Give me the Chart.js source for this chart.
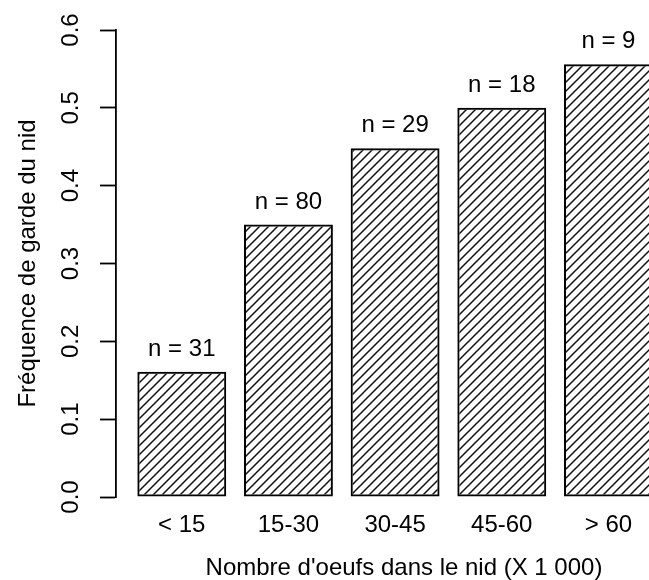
<!DOCTYPE html>
<html>
<head>
  <meta charset="UTF-8">
  <title>Fréquence de garde du nid</title>
  <script src="https://cdn.jsdelivr.net/npm/chart.js"></script>
  <style>
    html, body {
      margin: 0;
      padding: 0;
      background: white;
      overflow: hidden;
    }
    #wrap {
      width: 692px;
      height: 583px;
    }
  </style>
</head>
<body>
  <div id="wrap">
    <canvas id="nestChart" width="692" height="583"></canvas>
  </div>

  <script>
  // Data
  const categories = ['< 15', '15-30', '30-45', '45-60', '> 60'];
  const frequencies = [0.161, 0.35, 0.448, 0.5, 0.556];
  const sampleSizes = [31, 80, 29, 18, 9];
  const yMin = 0;
  const yMax = 0.6;
  const yStep = 0.1;

  // R barplot layout: bar width 1, space 0.2, axis range expanded by 4%
  const barMids = categories.map((c, i) => 0.7 + 1.2 * i);
  const xMin = 0.2 - 0.24;
  const xMax = 6.2 + 0.24;

  Chart.defaults.font.family = "'Liberation Sans', Arial, sans-serif";
  Chart.defaults.font.size = 24;
  Chart.defaults.color = '#000';

  // Diagonal hatching like density=... in R
  function makeHatch() {
    const s = 9;
    const c = document.createElement('canvas');
    c.width = s;
    c.height = s;
    const ctx = c.getContext('2d');
    ctx.strokeStyle = '#111';
    ctx.lineWidth = 1.5;
    ctx.beginPath();
    ctx.moveTo(-1, s + 1);
    ctx.lineTo(s + 1, -1);
    ctx.moveTo(-1, 1);
    ctx.lineTo(1, -1);
    ctx.moveTo(s - 1, s + 1);
    ctx.lineTo(s + 1, s - 1);
    ctx.stroke();
    return ctx.createPattern(c, 'repeat');
  }

  // "n = .." labels above each bar
  const countLabels = {
    id: 'countLabels',
    afterDatasetsDraw(chart) {
      const ctx = chart.ctx;
      const meta = chart.getDatasetMeta(0);
      ctx.save();
      ctx.font = "24px 'Liberation Sans', Arial, sans-serif";
      ctx.fillStyle = '#000';
      ctx.textAlign = 'center';
      ctx.textBaseline = 'alphabetic';
      meta.data.forEach((bar, i) => {
        ctx.fillText('n = ' + sampleSizes[i], bar.x, bar.y - 16);
      });
      ctx.restore();
    }
  };

  new Chart(document.getElementById('nestChart'), {
    type: 'bar',
    data: {
      datasets: [{
        data: frequencies.map((v, i) => ({ x: barMids[i], y: v })),
        backgroundColor: makeHatch(),
        borderColor: '#000',
        borderWidth: 2,
        borderSkipped: false,
        categoryPercentage: 1 / 1.2,
        barPercentage: 1
      }]
    },
    options: {
      responsive: false,
      animation: false,
      layout: { padding: { top: 30, left: 0, right: 0, bottom: 0 } },
      plugins: {
        legend: { display: false },
        tooltip: { enabled: false }
      },
      scales: {
        x: {
          type: 'linear',
          min: xMin,
          max: xMax,
          offset: false,
          grid: { display: false, drawTicks: false },
          border: { display: false },
          afterBuildTicks: scale => {
            scale.ticks = barMids.map(v => ({ value: v }));
          },
          ticks: {
            autoSkip: false,
            maxRotation: 0,
            padding: 14,
            callback: (v, i) => categories[i]
          },
          title: {
            display: true,
            text: "Nombre d'oeufs dans le nid (X 1 000)",
            padding: { top: 0, bottom: 0 }
          },
          afterFit: scale => { scale.height = 86; }
        },
        y: {
          min: yMin,
          max: yMax,
          grid: {
            drawOnChartArea: false,
            drawTicks: true,
            tickLength: 16,
            tickColor: '#000',
            tickWidth: 1.8
          },
          border: { display: true, color: '#000', width: 1.8 },
          ticks: {
            stepSize: yStep,
            minRotation: 90,
            maxRotation: 90,
            crossAlign: 'center',
            padding: 12,
            callback: v => v.toFixed(1)
          },
          title: {
            display: true,
            text: 'Fréquence de garde du nid',
            padding: { top: 14, bottom: 0 }
          },
          afterFit: scale => { scale.width = 116; }
        }
      }
    },
    plugins: [countLabels]
  });
  </script>
</body>
</html>
